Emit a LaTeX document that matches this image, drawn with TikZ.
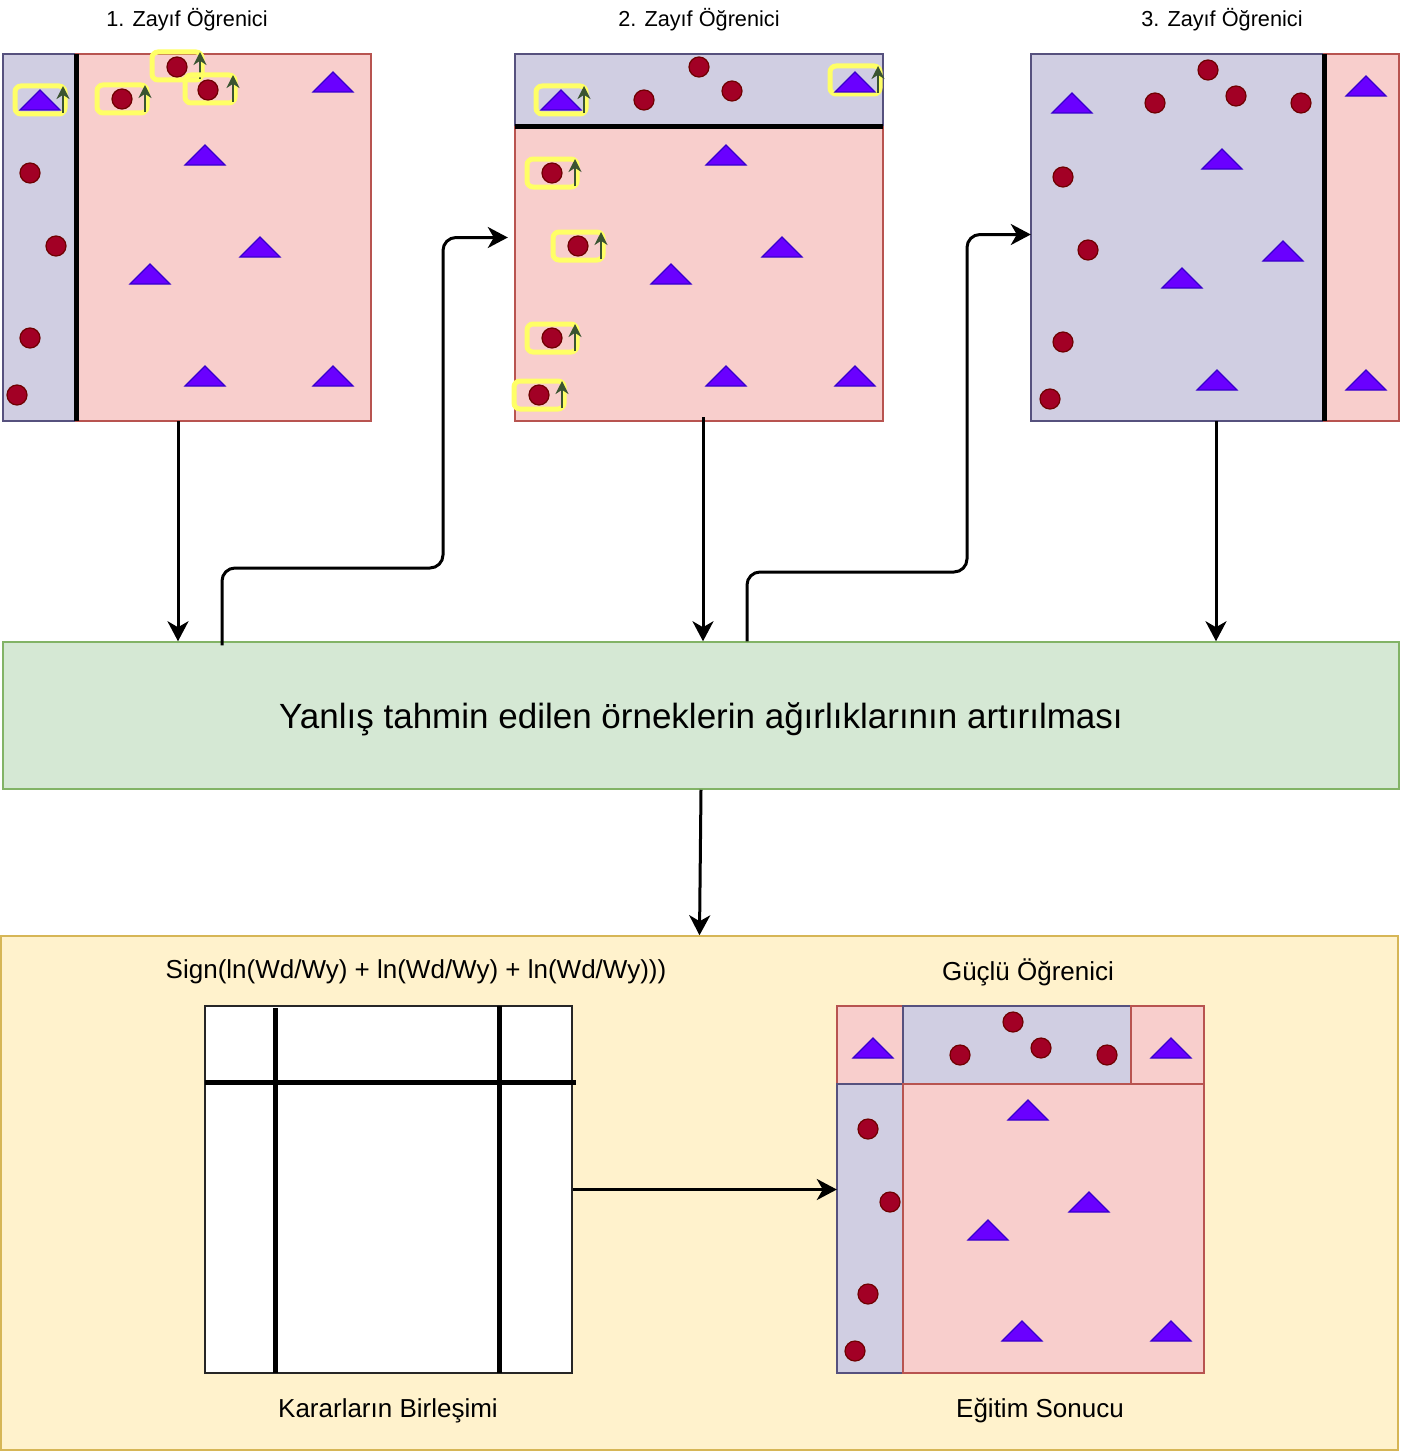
\documentclass[tikz,border=0pt]{standalone}
\usepackage{fontspec}
\setmainfont{Liberation Sans}
\usetikzlibrary{arrows.meta,calc}
\definecolor{bluef}{HTML}{D0CEE2}
\definecolor{bluel}{HTML}{56517E}
\definecolor{redf}{HTML}{F8CECC}
\definecolor{redl}{HTML}{B85450}
\definecolor{greenf}{HTML}{D5E8D4}
\definecolor{greenl}{HTML}{82B366}
\definecolor{yelf}{HTML}{FFF2CC}
\definecolor{yell}{HTML}{D6B656}
\definecolor{dotf}{HTML}{A20025}
\definecolor{dotl}{HTML}{6F0000}
\definecolor{trif}{HTML}{6A00FF}
\definecolor{tril}{HTML}{3700CC}
\definecolor{hly}{HTML}{FFFF66}
\definecolor{upg}{HTML}{3A5431}
\newcommand\dotc[2]{\draw[dotl,fill=dotf,line width=1.2pt] (#1,#2) circle[radius=10pt];}
\newcommand\tri[2]{\draw[tril,fill=trif,line width=1.2pt,shift={(#1,#2)}] (-20,10) -- (0,-10) -- (20,10) -- cycle;}
\newcommand\hlbox[2]{\draw[hly,line width=5pt,rounded corners=6pt] (#1-25,#2-14) rectangle (#1+25,#2+14);
  \draw[upg,line width=2.2pt,-{Stealth[length=13pt,width=13pt]}] (#1+23,#2+13) -- (#1+23,#2-14);}
\begin{document}
\begin{tikzpicture}[x=1pt,y=-1pt,
  blue/.style={fill=bluef,draw=bluel,line width=1.5pt},
  red/.style={fill=redf,draw=redl,line width=1.5pt},
  divider/.style={line width=5pt,black},
  frame/.style={minimum width=368pt,minimum height=367pt,inner sep=0pt},
  title/.style={font=\fontsize{21.7}{24}\selectfont},
  label/.style={font=\fontsize{26}{29}\selectfont},
  conn/.style={line width=3pt,-{Stealth[length=20pt,width=21pt,inset=6pt]},rounded corners=13pt}]
\useasboundingbox (0,0) rectangle (1400,1453);
% ---------- panel 1
\draw[blue] (3,54) rectangle (76,421);
\draw[red] (76,54) rectangle (371,421);
\draw[divider] (76,54) -- (76,421);
\node[frame] (p1) at (187,237.5) {};
\node[title] (t1) at (187,20) {1. Zayıf Öğrenici};
\hlbox{40}{100}\hlbox{122}{99}\hlbox{177}{66}\hlbox{210}{89}
\tri{40}{100}\tri{333}{82}\tri{205}{155}\tri{260}{247}\tri{150}{274}\tri{205}{376}\tri{333}{376}
\dotc{122}{99}\dotc{177}{67}\dotc{208}{90}\dotc{30}{173}\dotc{56}{246}\dotc{30}{338}\dotc{17}{395}
% ---------- panel 2
\draw[blue] (515,54) rectangle (883,127);
\draw[red] (515,127) rectangle (883,421);
\draw[divider] (515,127) -- (883,127);
\node[frame] (p2) at (699,237.5) {};
\node[title] (t2) at (699,20) {2. Zayıf Öğrenici};
\hlbox{561}{100}\hlbox{855}{80}\hlbox{552}{173}\hlbox{578}{246}\hlbox{552}{338}\hlbox{539}{395}
\tri{561}{100}\tri{855}{82}\tri{726}{155}\tri{782}{247}\tri{671}{274}\tri{726}{376}\tri{855}{376}
\dotc{644}{100}\dotc{699}{67}\dotc{732}{91}\dotc{552}{173}\dotc{578}{246}\dotc{552}{338}\dotc{539}{395}
% ---------- panel 3
\draw[blue] (1031,54) rectangle (1324,421);
\draw[red] (1324,54) rectangle (1399,421);
\draw[divider] (1324,54) -- (1324,421);
\node[frame] (p3) at (1215,237.5) {};
\node[title] (t3) at (1222,20) {3. Zayıf Öğrenici};
\tri{1072}{103}\tri{1222}{159}\tri{1283}{251}\tri{1182}{278}\tri{1217}{380}\tri{1366}{86}\tri{1366}{380}
\dotc{1208}{70}\dotc{1155}{103}\dotc{1236}{96}\dotc{1301}{103}\dotc{1063}{177}\dotc{1088}{250}\dotc{1063}{342}\dotc{1050}{399}
% ---------- update box
\node[draw=greenl,fill=greenf,line width=1.5pt,minimum width=1396pt,minimum height=147pt,inner sep=0pt,text depth=0pt,
  font=\fontsize{35}{40}\selectfont] (upd) at (701,715.5) {Yanlış tahmin edilen örneklerin ağırlıklarının artırılması};
% ---------- bottom container
\node[draw=yell,fill=yelf,line width=1.5pt,minimum width=1397pt,minimum height=514pt,inner sep=0pt] (bg) at (699.5,1193) {};
\node[label] (sg) at (416,972) {Sign(ln(Wd/Wy) + ln(Wd/Wy) + ln(Wd/Wy)))};
\node[label] (gu) at (1028,972) {Güçlü Öğrenici};
\node[label] (kb) at (388,1411) {Kararların Birleşimi};
\node[label] (es) at (1040,1411) {Eğitim Sonucu};
% combination box
\node[draw=black!85,fill=white,line width=2pt,minimum width=367pt,minimum height=367pt,inner sep=0pt] (comb) at (388.5,1189.5) {};
\draw[divider] (275,1008) -- (275,1373);
\draw[divider] (499,1006) -- (499,1373);
\draw[divider] (205,1082) -- (576,1082);
% result box
\draw[red] (837,1006) rectangle (903,1084);
\draw[blue] (903,1006) rectangle (1131,1084);
\draw[red] (1131,1006) rectangle (1204,1084);
\draw[blue] (837,1084) rectangle (903,1373);
\draw[red] (903,1084) rectangle (1204,1373);
\node[frame,minimum width=367pt] (res) at (1020.5,1189.5) {};
\tri{873}{1048}\tri{1171}{1048}\tri{1028}{1110}\tri{1089}{1202}\tri{988}{1230}\tri{1022}{1331}\tri{1171}{1331}
\dotc{1013}{1022}\dotc{960}{1055}\dotc{1041}{1048}\dotc{1107}{1055}\dotc{868}{1129}\dotc{890}{1202}\dotc{868}{1294}\dotc{855}{1351}
% ---------- connectors
\draw[conn] ([xshift=-9pt]p1.south) -- ([xshift=-523pt]upd.north);
\draw[conn] ([xshift=-479pt,yshift=-4pt]upd.north) |- (443,568) |- ([xshift=-7pt]p2.west);
\draw[conn] ([xshift=4pt,yshift=4pt]p2.south) -- ([xshift=2pt]upd.north);
\draw[conn] ([xshift=46pt]upd.north) |- (967,572) |- ([yshift=3pt]p3.west);
\draw[conn] ([xshift=1pt]p3.south) -- ([xshift=515pt]upd.north);
\draw[conn] (upd.south) -- (bg.north);
\draw[conn] (comb.east) -- (res.west);
\end{tikzpicture}
\end{document}
